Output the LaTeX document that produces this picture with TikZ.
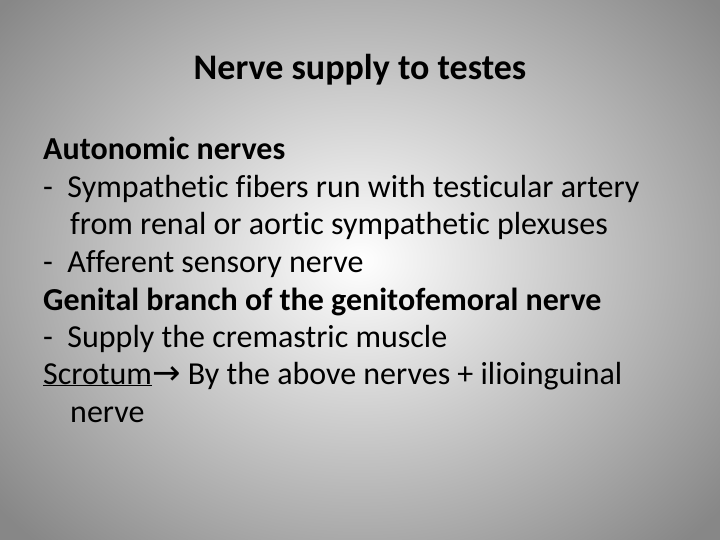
\documentclass[tikz,border=0pt]{standalone}
\usepackage{fontspec}
\setmainfont[Ligatures=NoCommon]{Carlito}
\newfontfamily\dv{DejaVu Sans}
\begin{document}
\begin{tikzpicture}[x=1pt,y=-1pt,
  txt/.style={anchor=base west,inner sep=0pt,font=\fontsize{32}{38}\selectfont}]
\useasboundingbox (0,0) rectangle (720,540);
\shade[inner color=white,outer color={rgb,255:red,135;green,135;blue,135}] (-110,-130) rectangle (830,650);
\node[anchor=base,inner sep=0pt,font=\fontsize{36}{42}\selectfont\bfseries] (title) at (360,80) {Nerve supply to testes};
\node[txt,font=\fontsize{32}{38}\selectfont\bfseries] (l1) at (43,160) {Autonomic nerves};
\node[txt] (l2) at (43,197) {- \ Sympathetic fibers run with testicular artery};
\node[txt] (l3) at (70,234) {from renal or aortic sympathetic plexuses};
\node[txt] (l4) at (43,272) {- \ Afferent sensory nerve};
\node[txt,font=\fontsize{32}{38}\selectfont\bfseries] (l5) at (43,310) {Genital branch of the genitofemoral nerve};
\node[txt] (l6) at (43,347) {- \ Supply the cremastric muscle};
\node[txt] (l7) at (43,384) {\underline{Scrotum}{\dv\fontsize{34}{36}\selectfont\raisebox{0pt}{→}} By the above nerves + ilioinguinal};
\node[txt] (l8) at (70,422) {nerve};
\end{tikzpicture}
\end{document}
